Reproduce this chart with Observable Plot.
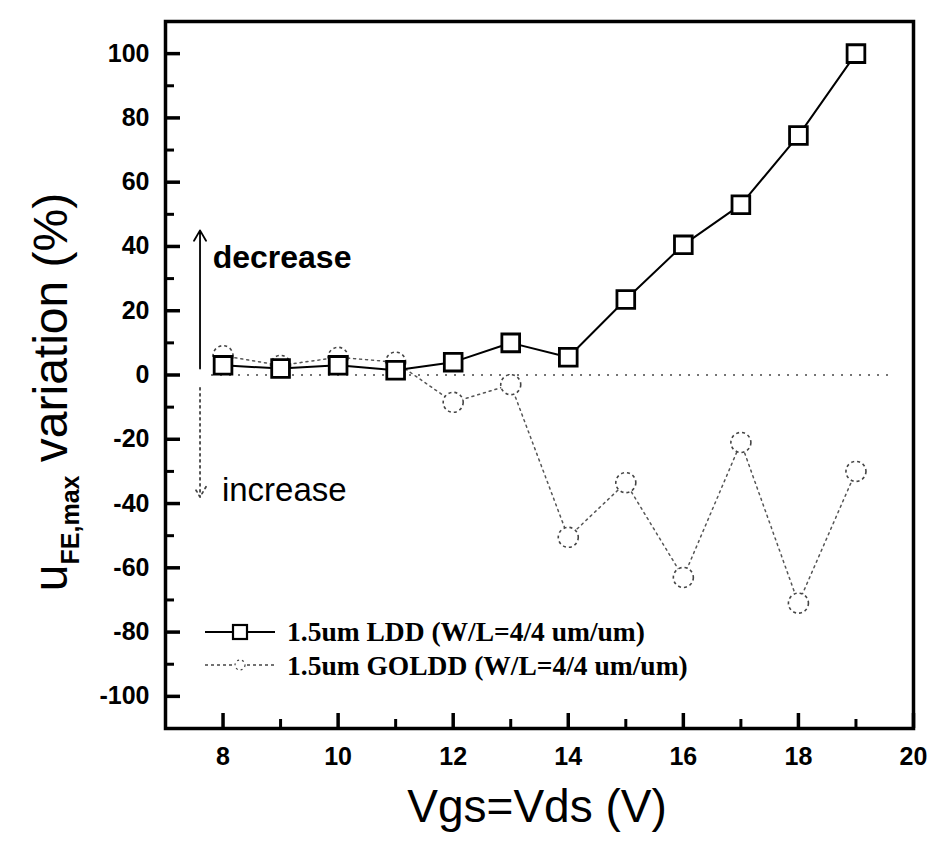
<!DOCTYPE html>
<html><head><meta charset="utf-8">
<script src="https://cdn.jsdelivr.net/npm/d3@7"></script>
<script src="https://cdn.jsdelivr.net/npm/@observablehq/plot@0.6"></script>
<style>body{margin:0;background:#fff}#chart svg{display:block}</style>
</head><body><div id="chart"></div>
<script>
// ---- data ----
const vgs = [8, 9, 10, 11, 12, 13, 14, 15, 16, 17, 18, 19];
const lddVariation = [3, 2, 3, 1.5, 4, 10, 5.5, 23.5, 40.5, 53, 74.5, 100];
const golddVariation = [6, 3, 5.5, 4, -8.5, -3, -50.5, -33.5, -63, -21, -71, -30];
const xTicksMajor = [8, 10, 12, 14, 16, 18, 20];
const xTicksMinor = [9, 11, 13, 15, 17, 19];
const yTicksMajor = [-100, -80, -60, -40, -20, 0, 20, 40, 60, 80, 100];
const yTicksMinor = [-90, -70, -50, -30, -10, 10, 30, 50, 70, 90];
const seriesNames = ["1.5um LDD (W/L=4/4 um/um)", "1.5um GOLDD (W/L=4/4 um/um)"];
const zeroLine = [{x1: 7.8, x2: 19.6, y: 0}];
const arrowUp = [{x: 7.6, y1: 2, y2: 45}];
const arrowDown = [{x: 7.6, y1: -4, y2: -38}];
const notes = [{x: 7.82, y: 36.5, text: "decrease"}, {x: 7.98, y: -36, text: "increase"}];

const ldd = vgs.map((v, i) => ({x: v, y: lddVariation[i]}));
const goldd = vgs.map((v, i) => ({x: v, y: golddVariation[i]}));
const fmt = d => String(d);

const W = 934, H = 843;
const M = {left: 165, right: 21, top: 21, bottom: 115};
const innerW = W - M.left - M.right, innerH = H - M.top - M.bottom;

const plot = Plot.plot({
  width: W, height: H,
  marginLeft: M.left, marginRight: M.right, marginTop: M.top, marginBottom: M.bottom,
  style: {fontFamily: "'Liberation Sans', Arial, sans-serif", background: "#fff"},
  x: {domain: [7, 20], label: null},
  y: {domain: [-110, 110], label: null},
  marks: [
    Plot.ruleY(zeroLine, {x1: "x1", x2: "x2", y: "y", stroke: "#444", strokeWidth: 1.5, strokeDasharray: "2,7"}),
    Plot.line(goldd, {x: "x", y: "y", stroke: "#555", strokeWidth: 1.5, strokeDasharray: "2,4"}),
    Plot.dot(goldd, {x: "x", y: "y", r: 10, fill: "white", stroke: "#444", strokeWidth: 1.6, strokeDasharray: "3,3"}),
    Plot.line(ldd, {x: "x", y: "y", stroke: "black", strokeWidth: 2}),
    Plot.dot(ldd, {x: "x", y: "y", symbol: "square", r: 10, fill: "white", stroke: "black", strokeWidth: 2.8}),
    Plot.arrow(arrowUp, {x1: "x", x2: "x", y1: "y1", y2: "y2", stroke: "black", strokeWidth: 1.8, headLength: 10}),
    Plot.arrow(arrowDown, {x1: "x", x2: "x", y1: "y1", y2: "y2", stroke: "#444", strokeWidth: 1.8, strokeDasharray: "2,4", headLength: 10}),
    Plot.text(notes.slice(0, 1), {x: "x", y: "y", text: "text", textAnchor: "start", fontSize: 32, fontWeight: "bold", fill: "black"}),
    Plot.text(notes.slice(1), {x: "x", y: "y", text: "text", textAnchor: "start", fontSize: 33, fill: "black"}),
    // inward tick stubs: tick marks inset so only a short piece remains next to the axis
    Plot.tickY(yTicksMajor, {y: d => d, insetRight: innerW - 15, stroke: "black", strokeWidth: 3.5}),
    Plot.tickY(yTicksMinor, {y: d => d, insetRight: innerW - 9, stroke: "black", strokeWidth: 3}),
    Plot.tickX(xTicksMajor, {x: d => d, insetTop: innerH - 15, stroke: "black", strokeWidth: 3.5}),
    Plot.tickX(xTicksMinor, {x: d => d, insetTop: innerH - 9, stroke: "black", strokeWidth: 3}),
    Plot.axisY(yTicksMajor, {tickSize: 0, tickPadding: 16, fontSize: 25, fontWeight: "bold", tickFormat: fmt, label: null}),
    Plot.axisX(xTicksMajor, {tickSize: 0, tickPadding: 19, fontSize: 25, fontWeight: "bold", tickFormat: fmt, label: null}),
    Plot.frame({stroke: "black", strokeWidth: 3.5})
  ]
});

const svg = d3.select(plot);
const sans = "'Liberation Sans', Arial, sans-serif";
// axis titles
svg.append("text")
  .attr("x", 537).attr("y", 822)
  .attr("text-anchor", "middle")
  .attr("font-family", sans)
  .attr("font-size", 46).attr("fill", "black")
  .text("Vgs=Vds (V)");
const yl = svg.append("text")
  .attr("transform", "translate(67,392) rotate(-90)")
  .attr("text-anchor", "middle")
  .attr("font-family", sans)
  .attr("font-size", 48).attr("fill", "black");
yl.append("tspan").text("u");
yl.append("tspan").attr("font-size", 25).attr("font-weight", "bold").attr("dy", 12).text("FE,max");
yl.append("tspan").attr("dy", -12).text(" variation (%)");

// legend
const lg = svg.append("g").attr("font-family", "'Liberation Serif', 'Times New Roman', serif").attr("text-anchor", "start");
lg.append("line").attr("x1", 205).attr("x2", 275).attr("y1", 632).attr("y2", 632).attr("stroke", "black").attr("stroke-width", 2);
lg.append("rect").attr("x", 233).attr("y", 625).attr("width", 14).attr("height", 14).attr("fill", "white").attr("stroke", "black").attr("stroke-width", 2.2);
lg.append("text").attr("x", 287).attr("y", 641).attr("text-anchor", "start").attr("font-size", 27.5).attr("font-weight", "bold").attr("fill", "black").text(seriesNames[0]);
lg.append("line").attr("x1", 205).attr("x2", 275).attr("y1", 665).attr("y2", 665).attr("stroke", "#444").attr("stroke-width", 1.3).attr("stroke-dasharray", "3,3");
lg.append("circle").attr("cx", 240).attr("cy", 665).attr("r", 5).attr("fill", "white").attr("stroke", "#444").attr("stroke-width", 1.2).attr("stroke-dasharray", "2,3");
lg.append("text").attr("x", 287).attr("y", 675).attr("text-anchor", "start").attr("font-size", 27.5).attr("font-weight", "bold").attr("fill", "black").text(seriesNames[1]);

document.getElementById("chart").appendChild(plot);
</script>
</body></html>
